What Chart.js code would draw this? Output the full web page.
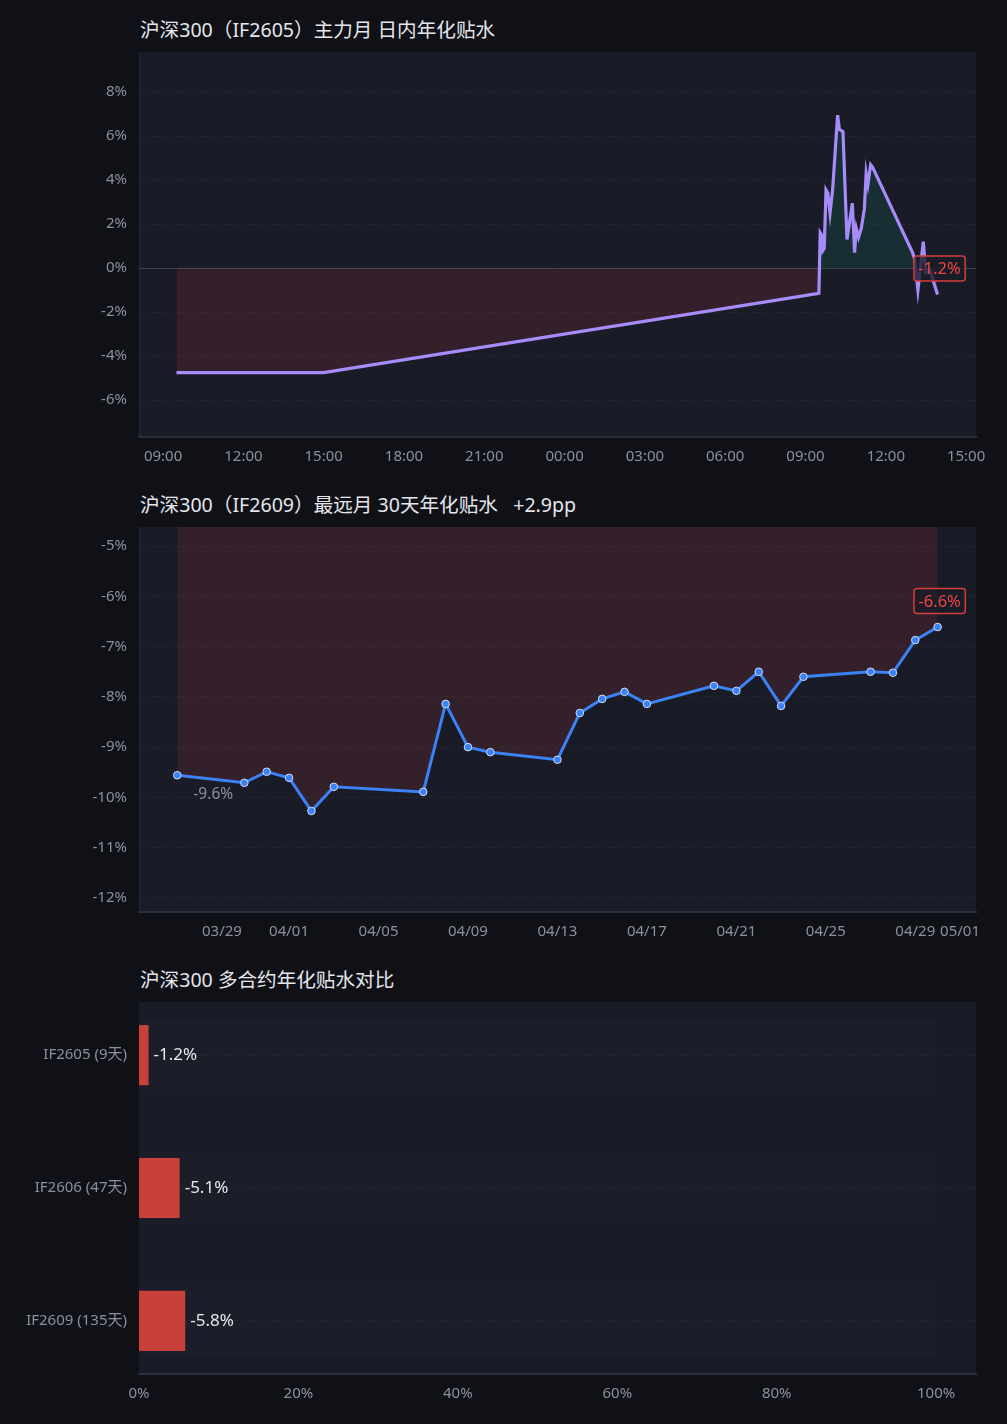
<!DOCTYPE html>
<html>
<head>
<meta charset="utf-8">
<script src="https://cdn.jsdelivr.net/npm/chart.js@4.4.1/dist/chart.umd.min.js"></script>
<style>
  body { margin: 0; background: #101117; width: 1007px; height: 1424px; position: relative; overflow: hidden;
         font-family: "Noto Sans", "Noto Sans CJK SC", sans-serif; }
  .title { position: absolute; left: 140px; color: #e4e6eb; font-size: 19.6px; line-height: 24px; white-space: pre; }
  .box { position: absolute; left: 0; width: 1007px; }
</style>
</head>
<body>
<div class="title" style="top:18px">沪深300（IF2605）主力月 日内年化贴水</div>
<div class="box" style="top:52px;height:423px"><canvas id="c1"></canvas></div>
<div class="title" style="top:493px">沪深300（IF2609）最远月 30天年化贴水   +2.9pp</div>
<div class="box" style="top:527px;height:423px"><canvas id="c2"></canvas></div>
<div class="title" style="top:968px">沪深300 多合约年化贴水对比</div>
<div class="box" style="top:1002px;height:410px"><canvas id="c3"></canvas></div>

<script>
// IF2605 intraday annualised basis (%), previous session + today
const prevDayTimes = ['09:30', '15:00'];
const prevDayBasis = [-4.75, -4.75];
const todayTimes = ['09:30', '09:33', '09:36', '09:39', '09:42', '09:46', '09:50', '09:55', '10:01', '10:12',
  '10:16', '10:24', '10:33', '10:45', '10:50', '10:54', '10:59', '11:05', '11:12', '11:16',
  '11:20', '11:26', '11:30', '13:00', '13:05', '13:12', '13:24', '13:30', '13:39', '13:56'];
const todayBasis = [-1.15, 1.6, 1.5, 0.8, 0.9, 3.55, 3.4, 2.5, 3.6, 6.95,
  6.3, 6.2, 1.3, 2.95, 0.7, 1.8, 1.4, 1.8, 2.7, 4.3,
  3.8, 4.7, 4.6, 0.7, 0.4, -1.0, 1.2, -0.2, -0.1, -1.2];

// IF2609 30-day annualised basis (%)
const farDates = ['03/27', '03/30', '03/31', '04/01', '04/02', '04/03', '04/07', '04/08', '04/09', '04/10',
  '04/13', '04/14', '04/15', '04/16', '04/17', '04/20', '04/21', '04/22', '04/23', '04/24',
  '04/27', '04/28', '04/29', '04/30'];
const farBasis = [-9.56, -9.71, -9.49, -9.61, -10.27, -9.79, -9.89, -8.14, -9.0, -9.1,
  -9.25, -8.32, -8.04, -7.9, -8.14, -7.78, -7.88, -7.5, -8.18, -7.6,
  -7.5, -7.52, -6.87, -6.61];
const dateTicks = ['03/29', '04/01', '04/05', '04/09', '04/13', '04/17', '04/21', '04/25', '04/29', '05/01'];

// contracts comparison
const contracts = ['IF2605 (9天)', 'IF2606 (47天)', 'IF2609 (135天)'];
const contractBasis = [-1.2, -5.1, -5.8];

const FONT = '"Noto Sans", "Noto Sans CJK SC", sans-serif';
Chart.defaults.font.family = FONT;
Chart.defaults.font.size = 15;
Chart.defaults.color = '#8b90a0';

const pad = n => String(n).padStart(2, '0');
const toHours = (t, day) => { const [h, m] = t.split(':').map(Number); return day * 24 + h + m / 60 - 9; };
const dayNum = s => { const [m, d] = s.split('/').map(Number); return Date.UTC(2026, m - 1, d) / 864e5; };

const fitX = s => { s.height = 38; s.paddingLeft = 0; s.paddingRight = 0; };
const fitY = s => { s.width = 139; s.paddingTop = 0; s.paddingBottom = 0; };
const LAYOUT = { autoPadding: false, padding: { left: 0, right: 31, top: 0, bottom: 0 } };

const plotBg = {
  id: 'plotBg',
  beforeDraw(chart) {
    const { ctx, chartArea: a } = chart;
    ctx.save();
    ctx.fillStyle = '#191b26';
    ctx.fillRect(a.left, a.top, a.right - a.left, a.bottom - a.top);
    ctx.restore();
  }
};

function boxLabel(ctx, text, cx, cy) {
  ctx.save();
  ctx.font = '16.5px ' + FONT;
  const w = ctx.measureText(text).width + 9, h = 25;
  ctx.beginPath();
  ctx.roundRect(cx - w / 2, cy - h / 2, w, h, 3);
  ctx.fillStyle = 'rgba(25,27,38,0.78)';
  ctx.fill();
  ctx.lineWidth = 1.5;
  ctx.strokeStyle = '#d63c3c';
  ctx.stroke();
  ctx.fillStyle = '#ef4444';
  ctx.textAlign = 'center';
  ctx.textBaseline = 'middle';
  ctx.fillText(text, cx, cy + 1);
  ctx.restore();
}

const lastLabel = {
  id: 'lastLabel',
  afterDatasetsDraw(chart) {
    const meta = chart.getDatasetMeta(0);
    const data = chart.data.datasets[0].data;
    const pt = meta.data[meta.data.length - 1];
    boxLabel(chart.ctx, data[data.length - 1].y.toFixed(1) + '%', pt.x + 2, pt.y - 26);
  }
};

const zeroLine = {
  id: 'zeroLine',
  beforeDatasetsDraw(chart) {
    const { ctx, chartArea: a, scales } = chart;
    const y = Math.round(scales.y.getPixelForValue(0)) + 0.5;
    ctx.save();
    ctx.strokeStyle = '#3b3e4c';
    ctx.lineWidth = 1;
    ctx.beginPath(); ctx.moveTo(a.left, y); ctx.lineTo(a.right, y); ctx.stroke();
    ctx.restore();
  }
};

const intraday = [
  ...prevDayTimes.map((t, i) => ({ x: toHours(t, 0), y: prevDayBasis[i] })),
  ...todayTimes.map((t, i) => ({ x: toHours(t, 1), y: todayBasis[i] }))
];

const gridY = {
  color: c => (c.tick && c.tick.value === 0) ? 'rgba(0,0,0,0)' : '#242734',
  drawTicks: false
};

new Chart(document.getElementById('c1'), {
  type: 'line',
  data: {
    datasets: [{
      data: intraday,
      borderColor: '#a78bfa',
      borderWidth: 3.2,
      pointRadius: 0,
      tension: 0,
      fill: { target: 'origin', above: 'rgba(16,185,129,0.13)', below: 'rgba(239,68,68,0.13)' }
    }]
  },
  options: {
    responsive: true, maintainAspectRatio: false, animation: false,
    layout: LAYOUT,
    plugins: { legend: { display: false }, tooltip: { enabled: false } },
    scales: {
      x: {
        type: 'linear', min: -0.9, max: 30.37,
        grid: { display: false, drawTicks: false },
        border: { color: '#2b2e3c', width: 2 },
        ticks: { stepSize: 3, padding: 11, maxRotation: 0, includeBounds: false,
                 callback: v => pad(Math.round(9 + v) % 24) + ':00' },
        afterFit: fitX
      },
      y: {
        min: -7.68, max: 9.82,
        grid: gridY,
        border: { color: '#262937', dash: [3, 3] },
        ticks: { stepSize: 2, padding: 12, includeBounds: false, callback: v => v + '%' },
        afterFit: fitY
      }
    }
  },
  plugins: [plotBg, zeroLine, lastLabel]
});

const firstLabel = {
  id: 'firstLabel',
  afterDatasetsDraw(chart) {
    const { ctx } = chart;
    const pt = chart.getDatasetMeta(0).data[0];
    ctx.save();
    ctx.font = '15.5px ' + FONT;
    ctx.fillStyle = '#8b90a0';
    ctx.textAlign = 'center';
    ctx.textBaseline = 'middle';
    ctx.fillText(farBasis[0].toFixed(1) + '%', pt.x + 36, pt.y + 19);
    ctx.restore();
  }
};

new Chart(document.getElementById('c2'), {
  type: 'line',
  data: {
    datasets: [{
      data: farDates.map((d, i) => ({ x: dayNum(d), y: farBasis[i] })),
      borderColor: '#3b82f6',
      borderWidth: 3,
      pointRadius: 3.8,
      pointBackgroundColor: '#3b82f6',
      pointBorderColor: '#cfdcf7',
      pointBorderWidth: 1,
      tension: 0,
      fill: { target: 'end', above: 'rgba(239,68,68,0.13)', below: 'rgba(239,68,68,0.13)' }
    }]
  },
  options: {
    responsive: true, maintainAspectRatio: false, animation: false,
    layout: LAYOUT,
    plugins: { legend: { display: false }, tooltip: { enabled: false } },
    scales: {
      x: {
        type: 'linear', min: dayNum('04/01') - 6.71, max: dayNum('05/01') + 0.715,
        grid: { display: false, drawTicks: false },
        border: { color: '#2b2e3c', width: 2 },
        afterBuildTicks: s => { s.ticks = dateTicks.map(t => ({ value: dayNum(t) })); },
        ticks: { padding: 11, maxRotation: 0, autoSkip: false, callback: (v, i) => dateTicks[i] },
        afterFit: fitX
      },
      y: {
        min: -12.28, max: -4.62,
        grid: gridY,
        border: { color: '#262937', dash: [3, 3] },
        ticks: { stepSize: 1, padding: 12, includeBounds: false, callback: v => v + '%' },
        afterFit: fitY
      }
    }
  },
  plugins: [plotBg, firstLabel, lastLabel]
});

const barExtras = {
  id: 'barExtras',
  beforeDatasetsDraw(chart) {
    const { ctx, scales } = chart;
    const x0 = scales.x.getPixelForValue(0), x1 = scales.x.getPixelForValue(100);
    ctx.save();
    ctx.fillStyle = 'rgba(255,255,255,0.012)';
    chart.getDatasetMeta(0).data.forEach(b => ctx.fillRect(x0, b.y - 36, x1 - x0, 72));
    ctx.restore();
  },
  afterDatasetsDraw(chart) {
    const { ctx } = chart;
    ctx.save();
    ctx.font = '17px ' + FONT;
    ctx.fillStyle = '#e8e9ee';
    ctx.textBaseline = 'middle';
    chart.getDatasetMeta(0).data.forEach((b, i) => {
      ctx.fillText(contractBasis[i].toFixed(1) + '%', b.x + 5, b.y);
    });
    ctx.restore();
  }
};

new Chart(document.getElementById('c3'), {
  type: 'bar',
  data: {
    datasets: [{
      data: contractBasis.map((v, i) => ({ x: Math.abs(v), y: i })),
      backgroundColor: '#c8403a',
      barPercentage: 0.566,
      categoryPercentage: 0.8
    }]
  },
  options: {
    indexAxis: 'y',
    responsive: true, maintainAspectRatio: false, animation: false,
    layout: LAYOUT,
    plugins: { legend: { display: false }, tooltip: { enabled: false } },
    scales: {
      x: {
        min: 0, max: 105,
        grid: { display: false, drawTicks: false },
        border: { color: '#2b2e3c', width: 2 },
        ticks: { stepSize: 20, padding: 11, includeBounds: false, callback: v => v + '%' },
        afterFit: fitX
      },
      y: {
        type: 'linear', min: -0.4, max: 2.4, reverse: true, offset: false,
        afterBuildTicks: s => { s.ticks = contracts.map((c, i) => ({ value: i })); },
        grid: { color: '#22253a', drawTicks: false, offset: false },
        border: { display: false, dash: [3, 3] },
        ticks: { padding: 12, autoSkip: false, callback: (v, i) => contracts[i] },
        afterFit: fitY
      }
    }
  },
  plugins: [plotBg, barExtras]
});
</script>
</body>
</html>
